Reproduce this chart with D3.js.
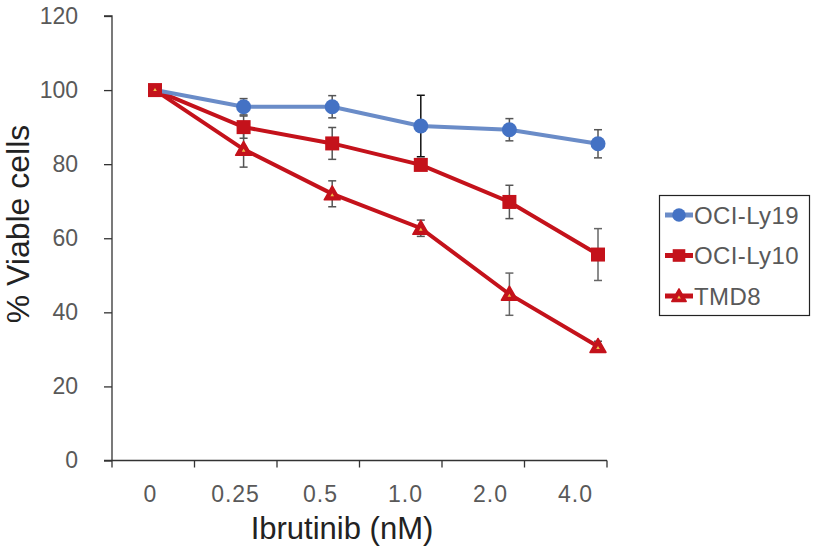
<!DOCTYPE html>
<html><head><meta charset="utf-8">
<script src="https://cdn.jsdelivr.net/npm/d3@7"></script>
<style>body{margin:0;background:#fff}svg{display:block}</style>
</head><body>
<svg id="c" width="814" height="553"></svg>
<script>
const categories = ["0","0.25","0.5","1.0","2.0","4.0"];
const yTicks = [0,20,40,60,80,100,120];
const seriesNames = ["OCI-Ly19","OCI-Ly10","TMD8"];
const ly19 = [100,95.5,95.5,90.3,89.3,85.5];
const ly19Err = [0,2.2,3.0,8.3,3.0,3.8];
const ly10 = [100,90.0,85.6,79.8,69.8,55.6];
const ly10Err = [0,3.0,4.3,1.0,4.5,7.0];
const tmd8 = [100,84.0,72.0,62.7,44.9,30.8];
const tmd8Err = [0,4.8,3.5,2.2,5.7,1.4];
const errColors = [["#555","#555","#555","#111","#555","#555"],["#555","#555","#555","#555","#555","#666"],["#555","#555","#555","#555","#666","#555"]];

const svg = d3.select("#c");
const font = "'Liberation Sans', Arial, Helvetica, sans-serif";
const y = d3.scaleLinear().domain([0,120]).range([460.5,16]);
const xBand = d3.scaleBand().domain(categories).range([112,607]);
const xLab = d3.scalePoint().domain(categories).range([150,575]);
const xPt = d3.scalePoint().domain(categories).range([155,598]);

// y axis
const ya = svg.append("g").attr("transform","translate(112,0)")
  .call(d3.axisLeft(y).tickValues(yTicks).tickSize(8).tickPadding(26).tickFormat(d3.format("d")));
ya.select(".domain").attr("stroke","#333").attr("stroke-width",1.3).attr("d","M-8,16H0V460.5");
ya.selectAll(".tick line").attr("stroke","#333").attr("stroke-width",1.3);
ya.selectAll(".tick text").attr("font-family",font).attr("font-size",23).attr("fill","#595959");

// x axis: boundary ticks from band scale, labels from point scale
const xa = svg.append("g").attr("transform","translate(0,460.5)")
  .call(d3.axisBottom(xLab).tickSize(0).tickPadding(25));
xa.select(".domain").attr("stroke","#333").attr("stroke-width",1.3).attr("d","M104,0H607");
xa.selectAll(".tick text").attr("font-family",font).attr("font-size",23).attr("fill","#595959").attr("letter-spacing",1);
const bounds = categories.map(c=>xBand(c)).concat([xBand(categories[5])+xBand.bandwidth()]);
xa.selectAll("line.bt").data(bounds).enter().append("line").attr("class","bt")
  .attr("x1",d=>d).attr("x2",d=>d).attr("y1",0).attr("y2",7).attr("stroke","#333").attr("stroke-width",1.3);

// titles
svg.append("text").attr("x",342).attr("y",539).attr("text-anchor","middle")
  .attr("font-family",font).attr("font-size",31).attr("fill","#222").text("Ibrutinib (nM)");
svg.append("text").attr("transform","translate(29,224) rotate(-90)").attr("text-anchor","middle")
  .attr("font-family",font).attr("font-size",32).attr("fill","#222").text("% Viable cells");

const series = [
  {name:seriesNames[0], v:ly19, e:ly19Err, line:"#6a8cc8", fill:"#4472c4", shape:"circle"},
  {name:seriesNames[1], v:ly10, e:ly10Err, line:"#c4121b", fill:"#c4121b", shape:"square"},
  {name:seriesNames[2], v:tmd8, e:tmd8Err, line:"#c4121b", fill:"#c4121b", shape:"triangle"}
];

// error bars
series.forEach((s,si)=>{
  const g = svg.append("g");
  s.v.forEach((v,i)=>{
    if(!s.e[i]) return;
    const cx = xPt(categories[i]), col = errColors[si][i];
    const t = y(v+s.e[i]), b = y(v-s.e[i]);
    g.append("line").attr("x1",cx).attr("x2",cx).attr("y1",t).attr("y2",b).attr("stroke",col).attr("stroke-width",1.5);
    [t,b].forEach(yy=>g.append("line").attr("x1",cx-4).attr("x2",cx+4).attr("y1",yy).attr("y2",yy).attr("stroke",col).attr("stroke-width",1.5));
  });
});

const lineGen = d3.line().x((d,i)=>xPt(categories[i])).y(d=>y(d));
[series[2],series[1],series[0]].forEach(s=>{
  svg.append("path").attr("d",lineGen(s.v)).attr("fill","none").attr("stroke",s.line).attr("stroke-width",4);
});

function marker(g, shape, cx, cy, fill, k){
  k = k || 1;
  if(shape==="circle") g.append("circle").attr("cx",cx).attr("cy",cy).attr("r",7.5*k).attr("fill",fill);
  else if(shape==="square") g.append("rect").attr("x",cx-7*k).attr("y",cy-7*k).attr("width",14*k).attr("height",14*k).attr("fill",fill);
  else {
    g.append("path").attr("d",`M${cx},${cy-8*k}L${cx+8*k},${cy+6*k}L${cx-8*k},${cy+6*k}Z`).attr("fill",fill).attr("stroke",fill).attr("stroke-width",1.5).attr("stroke-linejoin","round");
    g.append("path").attr("d",`M${cx},${cy-0.5}L${cx+1.8},${cy+2.5}L${cx-1.8},${cy+2.5}Z`).attr("fill","#f2c14e");
  }
}
[series[0],series[2],series[1]].forEach(s=>{
  const g = svg.append("g");
  s.v.forEach((v,i)=>{
    if(i===0 && s.shape!=="square") return;
    marker(g, s.shape, xPt(categories[i]), y(v), s.fill);
  });
});
svg.append("path").attr("d",`M${xPt(categories[0])},${y(100)-2}L${xPt(categories[0])+1.8},${y(100)+1}L${xPt(categories[0])-1.8},${y(100)+1}Z`).attr("fill","#f2c14e");

// legend
const lg = svg.append("g");
lg.append("rect").attr("x",659.5).attr("y",195.5).attr("width",150).attr("height",120).attr("fill","#fff").attr("stroke","#222").attr("stroke-width",1.2);
series.forEach((s,i)=>{
  const yy = 215 + i*40.5;
  lg.append("line").attr("x1",665).attr("x2",693).attr("y1",yy).attr("y2",yy).attr("stroke",s.line).attr("stroke-width",5);
  marker(lg, s.shape, 679, yy, s.fill, 0.9);
  lg.append("text").attr("x",694).attr("y",yy+8.5).attr("font-family",font).attr("font-size",24).attr("fill","#595959").attr("letter-spacing",0.4).text(s.name);
});
</script>
</body></html>
